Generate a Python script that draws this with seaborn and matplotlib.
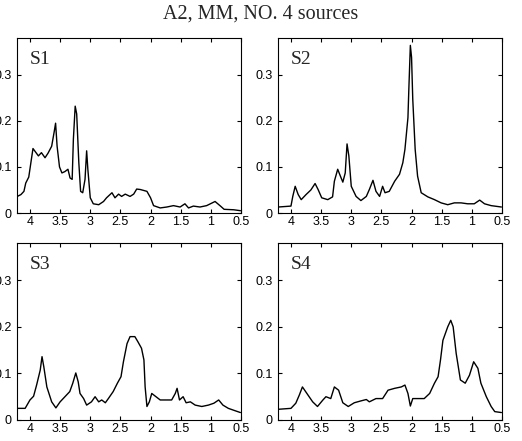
import matplotlib
matplotlib.use("Agg")
import matplotlib.pyplot as plt
import numpy as np
import pandas as pd
import seaborn as sns

# Chemical shift (ppm) and amplitude for each separated source
s1_x = [4.21, 4.15, 4.10, 4.07, 4.02, 3.95, 3.86, 3.81, 3.75, 3.70, 3.64, 3.60,
        3.575, 3.55, 3.51, 3.47, 3.42, 3.37, 3.335, 3.30, 3.28, 3.25, 3.225,
        3.19, 3.16, 3.125, 3.087, 3.06, 3.04, 3.00, 2.95, 2.86, 2.78, 2.73,
        2.64, 2.59, 2.53, 2.48, 2.42, 2.34, 2.28, 2.23, 2.17, 2.06, 2.00, 1.95,
        1.84, 1.73, 1.62, 1.51, 1.43, 1.37, 1.29, 1.18, 1.07, 0.93, 0.84, 0.78,
        0.62, 0.51]
s1_y = [0.036, 0.040, 0.047, 0.065, 0.078, 0.140, 0.124, 0.131, 0.120, 0.130,
        0.145, 0.175, 0.195, 0.145, 0.100, 0.087, 0.090, 0.095, 0.076, 0.073,
        0.160, 0.232, 0.215, 0.110, 0.047, 0.044, 0.073, 0.135, 0.095, 0.033,
        0.020, 0.018, 0.025, 0.033, 0.044, 0.033, 0.041, 0.036, 0.041, 0.036,
        0.041, 0.052, 0.051, 0.047, 0.033, 0.016, 0.011, 0.013, 0.016, 0.013,
        0.020, 0.011, 0.015, 0.013, 0.016, 0.025, 0.015, 0.008, 0.007, 0.005]

s2_x = [4.21, 4.00, 3.97, 3.93, 3.88, 3.83, 3.75, 3.67, 3.60, 3.55, 3.49, 3.39,
        3.31, 3.28, 3.225, 3.18, 3.14, 3.10, 3.07, 3.04, 3.00, 2.92, 2.84, 2.75,
        2.70, 2.64, 2.59, 2.53, 2.48, 2.44, 2.37, 2.28, 2.20, 2.145, 2.11, 2.06,
        2.045, 2.02, 2.00, 1.98, 1.94, 1.90, 1.84, 1.73, 1.62, 1.51, 1.40, 1.29,
        1.18, 1.07, 0.96, 0.87, 0.79, 0.68, 0.51]
s2_y = [0.013, 0.015, 0.036, 0.058, 0.040, 0.029, 0.040, 0.050, 0.064, 0.051,
        0.033, 0.029, 0.035, 0.069, 0.095, 0.080, 0.067, 0.087, 0.150, 0.124,
        0.058, 0.036, 0.027, 0.036, 0.051, 0.071, 0.047, 0.036, 0.058, 0.044,
        0.047, 0.069, 0.084, 0.109, 0.138, 0.207, 0.269, 0.364, 0.338, 0.247,
        0.138, 0.080, 0.044, 0.035, 0.029, 0.022, 0.018, 0.022, 0.022, 0.020,
        0.020, 0.028, 0.020, 0.016, 0.013]

s3_x = [4.21, 4.08, 4.00, 3.94, 3.89, 3.83, 3.80, 3.77, 3.72, 3.64, 3.57, 3.50,
        3.42, 3.34, 3.29, 3.24, 3.20, 3.17, 3.11, 3.06, 2.98, 2.92, 2.86, 2.81,
        2.75, 2.70, 2.62, 2.55, 2.49, 2.45, 2.39, 2.34, 2.26, 2.21, 2.15, 2.11,
        2.09, 2.06, 2.02, 1.98, 1.92, 1.84, 1.73, 1.65, 1.59, 1.56, 1.52, 1.46,
        1.41, 1.34, 1.26, 1.15, 1.04, 0.95, 0.87, 0.80, 0.71, 0.60, 0.51]
s3_y = [0.025, 0.025, 0.043, 0.051, 0.075, 0.107, 0.136, 0.114, 0.071, 0.039,
        0.026, 0.039, 0.050, 0.061, 0.079, 0.101, 0.082, 0.057, 0.046, 0.032,
        0.039, 0.050, 0.039, 0.043, 0.037, 0.046, 0.061, 0.079, 0.093, 0.125,
        0.164, 0.179, 0.179, 0.168, 0.154, 0.129, 0.071, 0.029, 0.039, 0.057,
        0.051, 0.043, 0.043, 0.043, 0.057, 0.068, 0.043, 0.050, 0.037, 0.039,
        0.032, 0.029, 0.032, 0.036, 0.043, 0.032, 0.025, 0.020, 0.016]

s4_x = [4.21, 4.00, 3.92, 3.86, 3.81, 3.72, 3.64, 3.56, 3.47, 3.42, 3.34, 3.28,
        3.21, 3.14, 3.05, 2.95, 2.84, 2.75, 2.70, 2.59, 2.48, 2.39, 2.28, 2.17,
        2.11, 2.06, 2.02, 1.98, 1.90, 1.79, 1.70, 1.62, 1.56, 1.52, 1.48, 1.40,
        1.35, 1.31, 1.26, 1.19, 1.11, 1.04, 0.97, 0.90, 0.85, 0.76, 0.68, 0.62,
        0.51]
s4_y = [0.023, 0.025, 0.036, 0.054, 0.071, 0.054, 0.039, 0.029, 0.043, 0.050,
        0.046, 0.071, 0.064, 0.037, 0.029, 0.037, 0.041, 0.044, 0.039, 0.046,
        0.046, 0.064, 0.068, 0.071, 0.075, 0.057, 0.030, 0.046, 0.046, 0.046,
        0.057, 0.079, 0.093, 0.129, 0.171, 0.200, 0.214, 0.200, 0.143, 0.086,
        0.079, 0.096, 0.125, 0.111, 0.079, 0.050, 0.029, 0.018, 0.016]

labels = ["S1", "S2", "S3", "S4"]
xs = [s1_x, s2_x, s3_x, s4_x]
ys = [s1_y, s2_y, s3_y, s4_y]

x_ticks = [4, 3.5, 3, 2.5, 2, 1.5, 1, 0.5]
x_tick_labels = ["4", "3.5", "3", "2.5", "2", "1.5", "1", "0.5"]
y_ticks = [0, 0.1, 0.2, 0.3]
y_tick_labels = ["0", "0.1", "0.2", "0.3"]
title = "A2, MM, NO. 4 sources"

sns.set_style("ticks")
plt.rcParams["font.family"] = ["Liberation Sans", "DejaVu Sans"]
plt.rcParams["axes.linewidth"] = 0.8

W, H = 522, 441
fig = plt.figure(figsize=(W / 100, H / 100), dpi=100)

# pixel boxes (left, top, right, bottom) of the four panels
boxes = [(17, 38, 241, 213), (278, 38, 502, 213),
         (17, 243, 241, 420), (278, 243, 502, 420)]

for lab, x, y, (l, t, r, b) in zip(labels, xs, ys, boxes):
    ax = fig.add_axes([l / W, 1 - b / H, (r - l) / W, (b - t) / H])
    df = pd.DataFrame({"ppm": x, "amp": y})
    sns.lineplot(data=df, x="ppm", y="amp", ax=ax, color="black",
                 linewidth=1.0, estimator=None)
    ax.set_xlim(4.215, 0.5)
    ax.set_ylim(0, 0.38)
    ax.set_xticks(x_ticks)
    ax.set_xticklabels(x_tick_labels)
    ax.set_yticks(y_ticks)
    ax.set_yticklabels(y_tick_labels)
    ax.set_xlabel("")
    ax.set_ylabel("")
    for s in ax.spines.values():
        s.set_visible(True)
        s.set_color("black")
    ax.tick_params(direction="in", length=3, width=0.8, colors="black",
                   top=True, right=True, labelsize=9)
    ax.tick_params(axis="x", pad=2)
    ax.tick_params(axis="y", pad=4)
    ax.text(13 / (r - l), 1 - 13 / (b - t), lab, transform=ax.transAxes,
            ha="left", va="top", fontsize=14, family="Liberation Serif")

fig.text(261 / W, 1 - 5 / H, title, ha="center", va="top", fontsize=14.5,
         family="Liberation Serif")

fig.savefig("out.png", dpi=100, facecolor="white")
